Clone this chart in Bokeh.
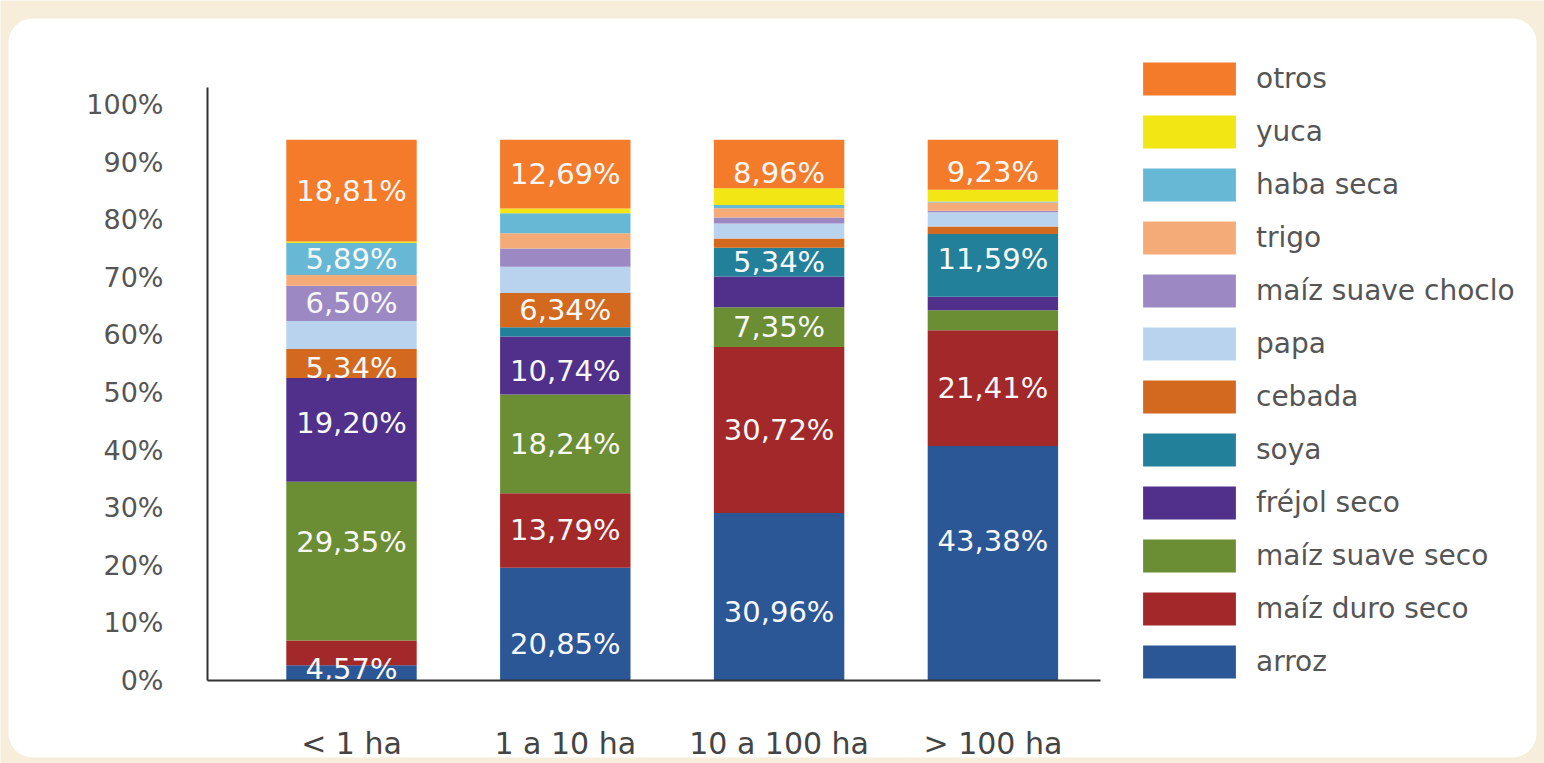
from bokeh.plotting import figure
from bokeh.models import (ColumnDataSource, Range1d, FixedTicker, Legend, LegendItem,
                          CustomJSTickFormatter, BoxAnnotation)
from bokeh.core.properties import value
from bokeh.embed import file_html
from bokeh.resources import INLINE

# ---------------- data ----------------
categories = ["< 1 ha", "1 a 10 ha", "10 a 100 ha", "> 100 ha"]

arroz             = [2.84, 20.85, 30.96, 43.38]
maiz_duro_seco    = [4.57, 13.79, 30.72, 21.41]
maiz_suave_seco   = [29.35, 18.24, 7.35, 3.70]
frejol_seco       = [19.20, 10.74, 5.67, 2.50]
soya              = [0.00, 1.70, 5.34, 11.59]
cebada            = [5.34, 6.34, 1.70, 1.40]
papa              = [5.20, 4.85, 2.80, 2.60]
maiz_suave_choclo = [6.50, 3.40, 1.10, 0.30]
trigo             = [2.00, 2.80, 1.70, 1.50]
haba_seca         = [5.89, 3.70, 0.60, 0.20]
yuca              = [0.30, 0.90, 3.10, 2.20]
otros             = [18.81, 12.69, 8.96, 9.23]

# bottom -> top
series_names = ["arroz", "maíz duro seco", "maíz suave seco", "fréjol seco", "soya",
                "cebada", "papa", "maíz suave choclo", "trigo", "haba seca", "yuca", "otros"]
series_values = [arroz, maiz_duro_seco, maiz_suave_seco, frejol_seco, soya, cebada,
                 papa, maiz_suave_choclo, trigo, haba_seca, yuca, otros]
series_colors = ["#2b5797", "#a3282a", "#6b8e35", "#50308a", "#22809a", "#d2691e",
                 "#b9d3ee", "#9c89c4", "#f5ab78", "#67b8d4", "#f2e714", "#f47b2a"]

# which segments carry a value label (category indices)
labelled = {
    "otros": [0, 1, 2, 3],
    "haba seca": [0],
    "maíz suave choclo": [0],
    "cebada": [0, 1],
    "soya": [2, 3],
    "fréjol seco": [0, 1],
    "maíz suave seco": [0, 1, 2],
    "maíz duro seco": [0, 1, 2, 3],
    "arroz": [1, 2, 3],
}
y_tick_labels = ["0%", "10%", "20%", "30%", "40%", "50%", "60%", "70%", "80%", "90%", "100%"]

# ---------------- styling ----------------
label_offsets = {("maíz duro seco", 0): 16, ("arroz", 1): 20, ("arroz", 2): 15,
                 ("arroz", 3): -22, ("maíz suave seco", 0): -19, ("fréjol seco", 0): -7,
                 ("cebada", 0): 5, ("fréjol seco", 1): 5, ("otros", 2): 9,
                 ("otros", 3): 7, ("soya", 3): -6}
axis_share = 0.9387   # the full bar reaches ~94% of the printed axis
FONT = "DejaVu Sans"
TXT = "#555555"
CREAM = "#f6eddb"

xs = list(range(len(categories)))
X0, X1 = -0.6735, 3.503          # extent of the drawn x axis
Y_AXIS_TOP = 109.67               # extent of the drawn y axis

p = figure(width=1544, height=763, x_range=Range1d(-1.6417, 5.58),
           y_range=Range1d(-15.35, 125.76), output_backend="svg", toolbar_location=None,
           min_border_left=0, min_border_right=0, min_border_top=0,
           min_border_bottom=0)
p.grid.visible = False
p.outline_line_color = None
p.background_fill_color = CREAM
p.border_fill_color = CREAM

# white rounded panel behind everything
panel = BoxAnnotation(left=8, right=1536, top=18, bottom=757,
                      left_units="canvas", right_units="canvas",
                      top_units="canvas", bottom_units="canvas",
                      fill_color="white", fill_alpha=1.0, line_color=None,
                      border_radius=24, level="underlay", propagate_hover=False)
p.add_layout(panel)

bottoms = [0.0] * len(categories)
lab_x, lab_y, lab_t, lab_off = [], [], [], []
renderers = {}
for name, vals, col in zip(series_names, series_values, series_colors):
    tops = [b + v for b, v in zip(bottoms, vals)]
    src = ColumnDataSource(dict(x=xs, bottom=bottoms, top=tops))
    renderers[name] = p.vbar(x="x", bottom="bottom", top="top", width=0.61, source=src,
                             fill_color=col, line_color=None)
    for i in labelled.get(name, []):
        lab_x.append(xs[i])
        lab_y.append((bottoms[i] + tops[i]) / 2)
        lab_t.append(f"{vals[i]:.2f}".replace(".", ",") + "%")
        lab_off.append(label_offsets.get((name, i), 0))
    bottoms = tops

lsrc = ColumnDataSource(dict(x=lab_x, y=lab_y, text=lab_t, yoff=lab_off))
p.text(x="x", y="y", text="text", source=lsrc, text_align="center",
       text_baseline="middle", text_font=value(FONT), text_font_size="29px",
       text_color="#f8f8f8", y_offset="yoff")

# y axis (drawn at x = X0)
p.yaxis.fixed_location = X0
p.yaxis.ticker = FixedTicker(ticks=[k * 10 / axis_share for k in range(len(y_tick_labels))])
p.yaxis.formatter = CustomJSTickFormatter(
    args=dict(labels=y_tick_labels, share=axis_share),
    code="return labels[Math.round(tick * share / 10)];")
p.yaxis.bounds = (0, Y_AXIS_TOP)
p.yaxis.major_tick_line_color = None
p.yaxis.minor_tick_line_color = None
p.yaxis.major_tick_out = 0
p.yaxis.major_tick_in = 0
p.yaxis.major_label_standoff = 44
p.yaxis.axis_line_color = "#333333"
p.yaxis.axis_line_width = 2
p.yaxis.major_label_text_font = FONT
p.yaxis.major_label_text_font_size = "27px"
p.yaxis.major_label_text_color = TXT

# x axis (drawn at y = 0)
p.xaxis.fixed_location = 0
p.xaxis.bounds = (X0, X1)
p.xaxis.ticker = FixedTicker(ticks=xs)
p.xaxis.major_label_overrides = {i: c for i, c in zip(xs, categories)}
p.xaxis.major_tick_line_color = None
p.xaxis.minor_tick_line_color = None
p.xaxis.major_tick_out = 0
p.xaxis.major_tick_in = 0
p.xaxis.major_label_standoff = 45
p.xaxis.axis_line_color = "#333333"
p.xaxis.axis_line_width = 2
p.xaxis.major_label_text_font = FONT
p.xaxis.major_label_text_font_size = "30px"
p.xaxis.major_label_text_color = "#444444"

# ---------------- legend ----------------
items = [LegendItem(label=n, renderers=[renderers[n]]) for n in series_names[::-1]]
legend = Legend(items=items, location=(1131, 81), margin=0, padding=0, spacing=12,
                glyph_width=116, glyph_height=41, label_standoff=9,
                label_text_font=FONT, label_text_font_size="28px",
                label_text_color=TXT, border_line_color=None,
                background_fill_alpha=0)
p.add_layout(legend)

open("out.html", "w").write(file_html(p, INLINE))
